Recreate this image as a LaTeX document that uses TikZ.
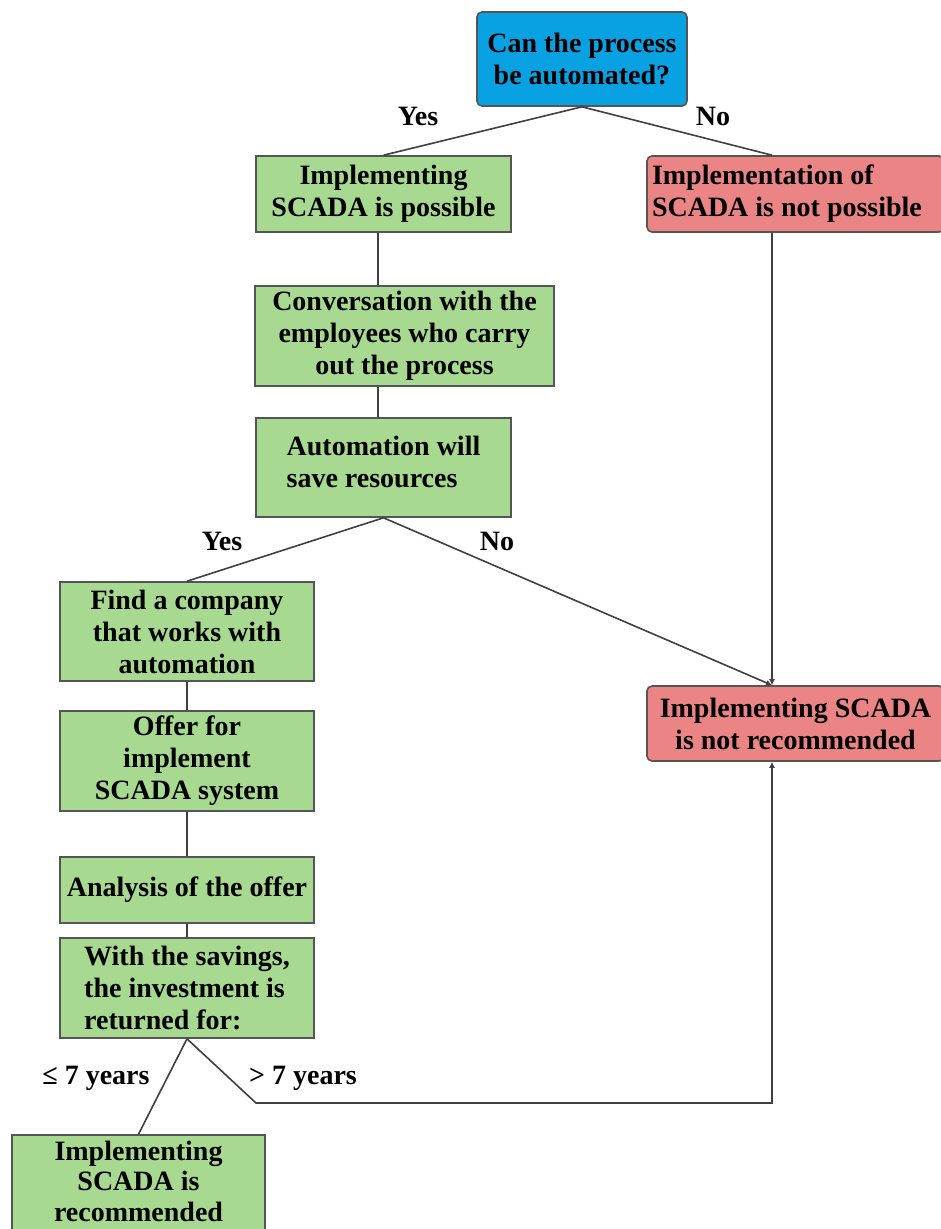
\documentclass[tikz,border=0pt]{standalone}
\usepackage{fontspec}
\setmainfont{Liberation Serif}
\usetikzlibrary{arrows.meta}
\definecolor{bfill}{HTML}{08A2E2}
\definecolor{gfill}{HTML}{A8D990}
\definecolor{rfill}{HTML}{EB8585}
\definecolor{boxline}{HTML}{555555}
\definecolor{connline}{HTML}{404040}
\begin{document}
\begin{tikzpicture}[x=1pt,y=-1pt,
  box/.style={draw=boxline, line width=1.6pt, font=\fontsize{28}{32}\selectfont\bfseries, align=center, inner sep=0pt, text=black},
  gbox/.style={box, fill=gfill},
  rbox/.style={box, fill=rfill, rounded corners=5pt},
  bbox/.style={box, fill=bfill, rounded corners=5pt},
  conn/.style={draw=connline, line width=1.6pt},
  lbl/.style={font=\fontsize{28}{32}\selectfont\bfseries, inner sep=0pt, anchor=base},
  tip/.style={-{Latex[length=6pt,width=6pt]}}]
\useasboundingbox (0,0) rectangle (941,1229);
\fill[white] (0,0) rectangle (941,1229);
% nodes
\node[bbox, minimum width=210pt, minimum height=94pt] (q) at (582,59) {Can the process\\be automated?};
\node[gbox, minimum width=255pt, minimum height=76pt] (g1) at (383.5,194) {Implementing\\SCADA is possible};
\node[rbox, minimum width=297pt, minimum height=76pt, text width=287pt, align=flush left] (r1) at (795.5,194) {Implementation of\\SCADA is not possible};
\node[gbox, minimum width=299pt, minimum height=100pt] (g2) at (404.5,336) {Conversation with the\\employees who carry\\out the process};
\node[gbox, minimum width=255pt, minimum height=99pt, align=left] (g3) at (383.5,467.5) {Automation will\\save resources\rule[-12pt]{0pt}{12pt}};
\node[gbox, minimum width=254pt, minimum height=99pt] (g4) at (187,631.5) {Find a company\\that works with\\automation};
\node[gbox, minimum width=254pt, minimum height=100pt] (g5) at (187,761) {Offer for\\implement\\SCADA system};
\node[gbox, minimum width=254pt, minimum height=66pt] (g6) at (187,890) {Analysis of the offer};
\node[gbox, minimum width=254pt, minimum height=100pt, align=left] (g7) at (187,988) {With the savings,\\the investment is\\returned for:};
\node[gbox, minimum width=253pt, minimum height=110pt] (g8) at (138.5,1190) {};
\node[inner sep=0pt, align=center, font=\fontsize{28}{30.5}\selectfont\bfseries] (g8t) at (138.5,1181) {Implementing\\SCADA is\\recommended};
\node[rbox, minimum width=297pt, minimum height=75pt] (r2) at (795.5,723.5) {Implementing SCADA\\is not recommended};
% labels
\node[lbl] (yes1) at (418,125) {Yes};
\node[lbl] (no1) at (713,125) {No};
\node[lbl] (yes2) at (222,550) {Yes};
\node[lbl] (no2) at (497,550) {No};
\node[lbl] (le7) at (96,1084) {≤ 7 years};
\node[lbl] (gt7) at (303,1084) {> 7 years};
% helper coordinates
\coordinate (vx) at (378,0);
\coordinate (rx) at (772,0);
\coordinate (bend) at (256,1103);
% connectors
\draw[conn] (q.south) -- (g1.north);
\draw[conn] (q.south) -- (rx |- r1.north);
\draw[conn] (vx |- g1.south) -- (vx |- g2.north);
\draw[conn] (vx |- g2.south) -- (vx |- g3.north);
\draw[conn] (g3.south) -- (g4.north);
\draw[conn,tip] (g3.south) -- (rx |- r2.north);
\draw[conn,tip] (rx |- r1.south) -- (rx |- r2.north);
\draw[conn] (g4.south) -- (g5.north);
\draw[conn] (g5.south) -- (g6.north);
\draw[conn] (g6.south) -- (g7.north);
\draw[conn] (g7.south) -- (g8.north);
\draw[conn,tip] (g7.south) -- (bend) -- (rx |- bend) -- (rx |- r2.south);
\end{tikzpicture}
\end{document}
